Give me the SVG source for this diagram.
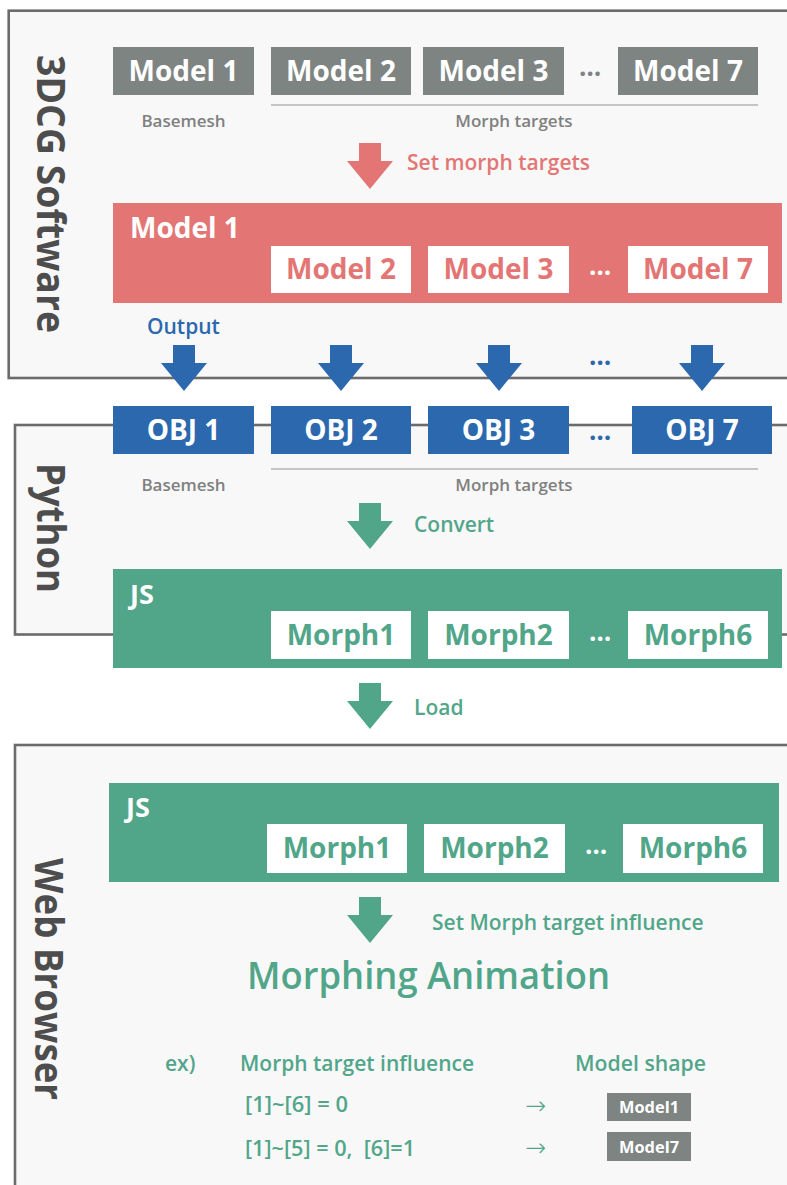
<svg xmlns="http://www.w3.org/2000/svg" width="787" height="1185" viewBox="0 0 787 1185">
  <style>
    text { font-family: "Open Sans", "Liberation Sans", sans-serif; }
    .panel { fill: #f8f8f8; stroke: #6b6b6b; stroke-width: 2.6; }
    .side { font-size: 39px; font-weight: 700; fill: #4d4d4d; }
    .lbl { font-size: 28px; font-weight: 700; text-anchor: middle; }
    .head { font-size: 28px; font-weight: 700; fill: #fff; }
    .js { font-size: 27px; font-weight: 700; fill: #fff; }
    .w { fill: #fff; }
    .grey { fill: #7e8481; }
    .red { fill: #e37674; }
    .blue { fill: #2c68ae; }
    .green { fill: #51a68a; }
    .cap { font-size: 21px; font-weight: 600; }
    .sub { font-size: 17px; font-weight: 600; fill: #808080; text-anchor: middle; }
    .dots { font-size: 26px; font-weight: 700; text-anchor: middle; }
    .rule { stroke: #b4b4b4; stroke-width: 1.5; }
    .ex { font-size: 21px; font-weight: 600; fill: #51a68a; }
    .to { font-family: "DejaVu Sans", "Liberation Sans", sans-serif; font-size: 25px; font-weight: 200; fill: #51a68a; }
    .mini { font-size: 16px; font-weight: 700; fill: #fff; text-anchor: middle; }
  </style>
  <defs>
    <path id="arrow" d="M-11,0 H11 V18 H23 L0,46 L-23,18 H-11 Z"/>
  </defs>

  <!-- stage panels -->
  <g id="panel-3dcg">
    <rect class="panel" x="8.7" y="10.7" width="800" height="367.3"/>
    <text class="side" transform="translate(37,55) rotate(90)" textLength="278" lengthAdjust="spacingAndGlyphs">3DCG Software</text>
  </g>
  <g id="panel-python">
    <rect class="panel" x="15" y="425" width="800" height="209.5"/>
    <text class="side" transform="translate(37,463) rotate(90)" textLength="130" lengthAdjust="spacingAndGlyphs">Python</text>
  </g>
  <g id="panel-web">
    <rect class="panel" x="15" y="745" width="800" height="460"/>
    <text class="side" transform="translate(35,858) rotate(90)" textLength="242" lengthAdjust="spacingAndGlyphs">Web Browser</text>
  </g>

  <!-- source models -->
  <g id="models">
    <rect class="grey" x="113" y="47" width="141" height="48"/>
    <rect class="grey" x="271" y="47" width="140" height="48"/>
    <rect class="grey" x="423" y="47" width="141" height="48"/>
    <rect class="grey" x="618" y="47" width="140" height="48"/>
    <text class="lbl w" x="183.5" y="81">Model 1</text>
    <text class="lbl w" x="341" y="81">Model 2</text>
    <text class="lbl w" x="493.5" y="81">Model 3</text>
    <text class="lbl w" x="688" y="81">Model 7</text>
    <text class="dots grey" x="590" y="76">…</text>
    <line class="rule" x1="271" y1="105" x2="758" y2="105"/>
    <text class="sub" x="183.5" y="127">Basemesh</text>
    <text class="sub" x="514" y="127">Morph targets</text>
  </g>

  <!-- model with morph targets -->
  <g id="morph-model">
    <rect class="red" x="113" y="203" width="669" height="100"/>
    <text class="head" x="130" y="238">Model 1</text>
    <rect class="w" x="271" y="246" width="140" height="47"/>
    <rect class="w" x="428" y="246" width="141" height="47"/>
    <rect class="w" x="628" y="246" width="140" height="47"/>
    <text class="lbl red" x="341" y="279">Model 2</text>
    <text class="lbl red" x="498.5" y="279">Model 3</text>
    <text class="lbl red" x="698" y="279">Model 7</text>
    <text class="dots w" x="600" y="275">…</text>
  </g>

  <!-- exported OBJ files -->
  <g id="obj-files">
    <rect class="blue" x="113" y="406" width="141" height="48"/>
    <rect class="blue" x="271" y="406" width="140" height="48"/>
    <rect class="blue" x="428" y="406" width="141" height="48"/>
    <rect class="blue" x="632" y="406" width="140" height="48"/>
    <text class="lbl w" x="183.5" y="440">OBJ 1</text>
    <text class="lbl w" x="341" y="440">OBJ 2</text>
    <text class="lbl w" x="498.5" y="440">OBJ 3</text>
    <text class="lbl w" x="702" y="440">OBJ 7</text>
    <text class="dots blue" x="600" y="440">…</text>
    <line class="rule" x1="271" y1="469" x2="758" y2="469"/>
    <text class="sub" x="183.5" y="491">Basemesh</text>
    <text class="sub" x="514" y="491">Morph targets</text>
  </g>

  <!-- converted JS -->
  <g id="js-converted">
    <rect class="green" x="113" y="569" width="669" height="99"/>
    <text class="js" x="130" y="604">JS</text>
    <rect class="w" x="271" y="611" width="140" height="48"/>
    <rect class="w" x="428" y="611" width="141" height="48"/>
    <rect class="w" x="628" y="611" width="140" height="48"/>
    <text class="lbl green" x="341" y="645">Morph1</text>
    <text class="lbl green" x="498.5" y="645">Morph2</text>
    <text class="lbl green" x="698" y="645">Morph6</text>
    <text class="dots w" x="600" y="641">…</text>
  </g>

  <!-- JS loaded in the browser -->
  <g id="js-loaded">
    <rect class="green" x="109" y="783" width="670" height="99"/>
    <text class="js" x="126" y="817">JS</text>
    <rect class="w" x="267" y="824" width="140" height="49"/>
    <rect class="w" x="424" y="824" width="141" height="49"/>
    <rect class="w" x="623" y="824" width="140" height="49"/>
    <text class="lbl green" x="337" y="858">Morph1</text>
    <text class="lbl green" x="494.5" y="858">Morph2</text>
    <text class="lbl green" x="693" y="858">Morph6</text>
    <text class="dots w" x="596" y="854">…</text>
  </g>

  <g id="animation">
    <text class="green" x="247" y="989" font-size="37" font-weight="600" textLength="363" lengthAdjust="spacingAndGlyphs">Morphing Animation</text>
  </g>

  <!-- example table -->
  <g id="example">
    <text class="ex" x="165" y="1071">ex)</text>
    <text class="ex" x="240" y="1071" textLength="234" lengthAdjust="spacingAndGlyphs">Morph target influence</text>
    <text class="ex" x="575" y="1071" textLength="131" lengthAdjust="spacingAndGlyphs">Model shape</text>
    <text class="ex" x="245" y="1112" textLength="103" lengthAdjust="spacingAndGlyphs">[1]~[6] = 0</text>
    <text class="ex" x="245" y="1156" textLength="170" lengthAdjust="spacingAndGlyphs">[1]~[5] = 0,&#160; [6]=1</text>
    <text class="to" x="525" y="1114">→</text>
    <text class="to" x="525" y="1156">→</text>
    <rect class="grey" x="607" y="1093" width="84" height="28"/>
    <text class="mini" x="649" y="1113" textLength="60" lengthAdjust="spacingAndGlyphs">Model1</text>
    <rect class="grey" x="607" y="1132" width="84" height="29"/>
    <text class="mini" x="649" y="1153" textLength="60" lengthAdjust="spacingAndGlyphs">Model7</text>
  </g>

  <!-- connectors -->
  <g id="connectors">
    <use href="#arrow" class="red" transform="translate(370,143)"/>
    <text class="cap red" x="407" y="170">Set morph targets</text>

    <text class="cap blue" x="147" y="334">Output</text>
    <use href="#arrow" class="blue" transform="translate(184,345)"/>
    <use href="#arrow" class="blue" transform="translate(341,345)"/>
    <use href="#arrow" class="blue" transform="translate(499,345)"/>
    <use href="#arrow" class="blue" transform="translate(702,345)"/>
    <text class="dots blue" x="600" y="365">…</text>

    <use href="#arrow" class="green" transform="translate(370,503)"/>
    <text class="cap green" x="414" y="532">Convert</text>

    <use href="#arrow" class="green" transform="translate(370,683)"/>
    <text class="cap green" x="414" y="715">Load</text>

    <use href="#arrow" class="green" transform="translate(370,897)"/>
    <text class="cap green" x="432" y="930">Set Morph target influence</text>
  </g>
</svg>
